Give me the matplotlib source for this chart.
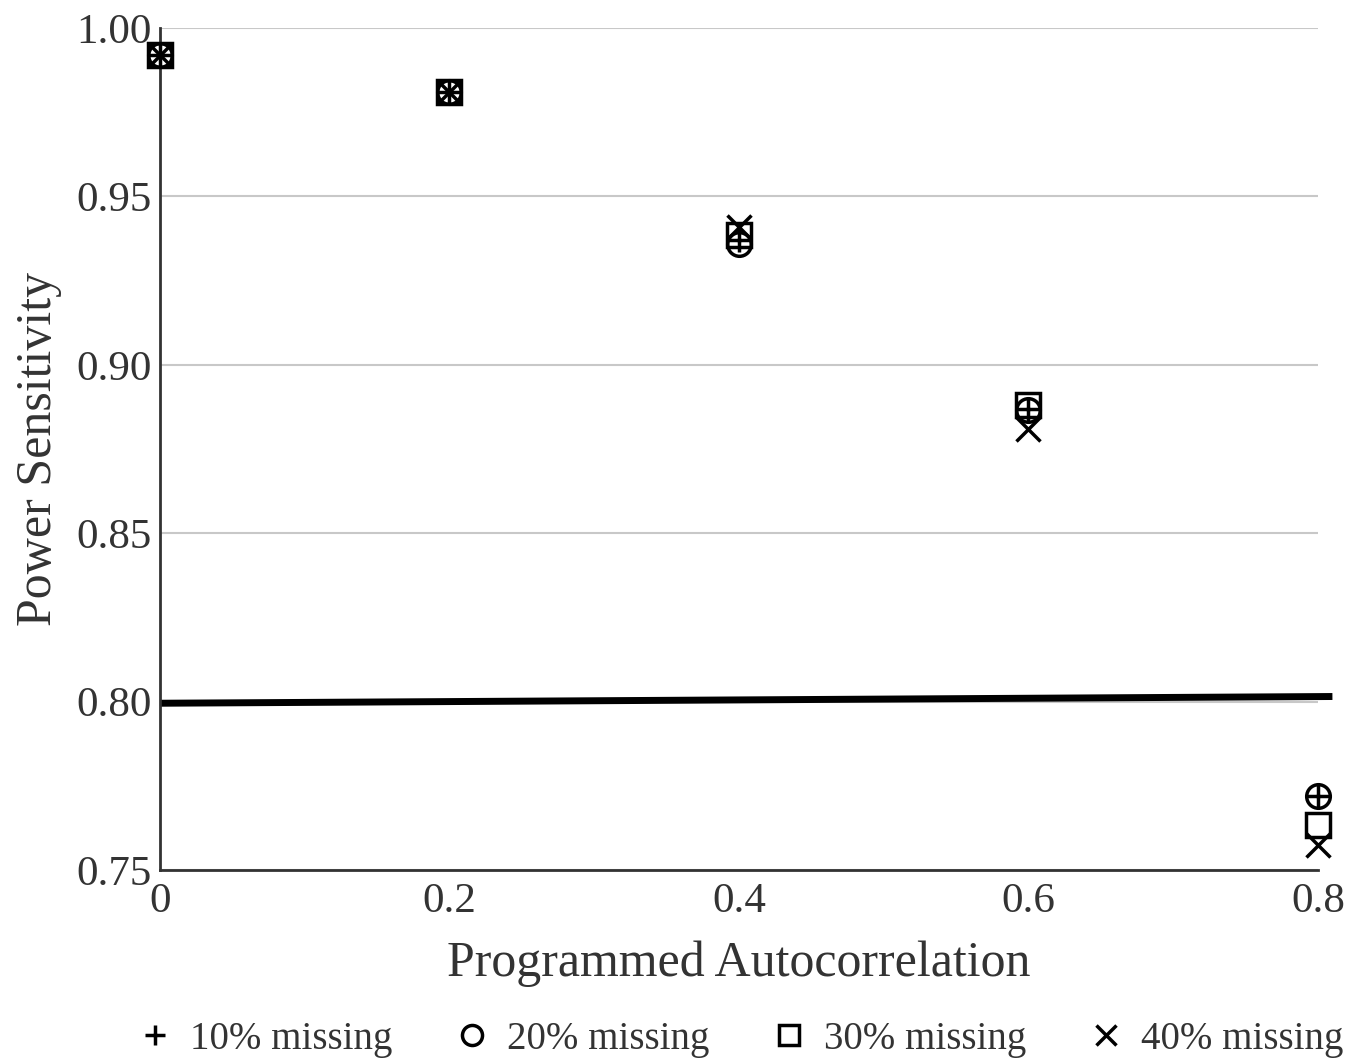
import numpy as np
import matplotlib
matplotlib.use("Agg")
import matplotlib.pyplot as plt

plt.rcParams['font.family'] = ['Liberation Serif', 'DejaVu Serif']

autocorr = [0.0, 0.2, 0.4, 0.6, 0.8]
miss10 = [0.992, 0.981, 0.937, 0.887, 0.772]
miss20 = [0.992, 0.981, 0.936, 0.8866, 0.772]
miss30 = [0.992, 0.981, 0.9385, 0.888, 0.7634]
miss40 = [0.992, 0.981, 0.941, 0.881, 0.7574]
labels = ["10% missing", "20% missing", "30% missing", "40% missing"]
target_x = [0.0, 0.81]
target_y = [0.7995, 0.8015]

fig = plt.figure(figsize=(13.72, 10.63), dpi=100)
ax = fig.add_axes([0.1166, 0.1816, 0.844, 0.7921])

ax.plot(target_x, target_y, color="black", lw=5, solid_capstyle="butt", zorder=2, clip_on=False)

ms = 17
ax.plot(autocorr, miss10, ls="none", marker="+", ms=ms, mew=2.5, color="black", label=labels[0], clip_on=False, zorder=3)
ax.plot(autocorr, miss20, ls="none", marker="o", ms=ms, mew=2.5, mfc="none", color="black", label=labels[1], clip_on=False, zorder=3)
ax.plot(autocorr, miss30, ls="none", marker="s", ms=ms, mew=2.5, mfc="none", color="black", label=labels[2], clip_on=False, zorder=3)
ax.plot(autocorr, miss40, ls="none", marker="x", ms=ms, mew=2.5, color="black", label=labels[3], clip_on=False, zorder=3)

ax.set_xlim(0, 0.8)
ax.set_ylim(0.75, 1.0)
ax.set_xticks([0, 0.2, 0.4, 0.6, 0.8])
ax.set_xticklabels(["0", "0.2", "0.4", "0.6", "0.8"])
ax.set_yticks([0.75, 0.80, 0.85, 0.90, 0.95, 1.00])
ax.set_yticklabels(["0.75", "0.80", "0.85", "0.90", "0.95", "1.00"])
ax.tick_params(length=0, labelsize=31, colors="#333333", pad=6)
ax.tick_params(axis="x", pad=9)
ax.yaxis.grid(True, color="#c8c8c8", lw=1.5)
ax.set_axisbelow(True)
for s in ["top", "right"]:
    ax.spines[s].set_visible(False)
for s in ["left", "bottom"]:
    ax.spines[s].set_color("#333333")
    ax.spines[s].set_linewidth(2)

ax.set_xlabel("Programmed Autocorrelation", fontsize=36, color="#333333", labelpad=14)
ax.set_ylabel("Power Sensitivity", fontsize=36, color="#333333", labelpad=10)

fig.legend(loc="lower center", bbox_to_anchor=(0.539, -0.028), ncol=4, frameon=False,
           fontsize=28, markerscale=0.85, handlelength=1.0, handletextpad=0.4,
           columnspacing=1.55, labelcolor="#333333")

plt.savefig("out.png", dpi=100)
